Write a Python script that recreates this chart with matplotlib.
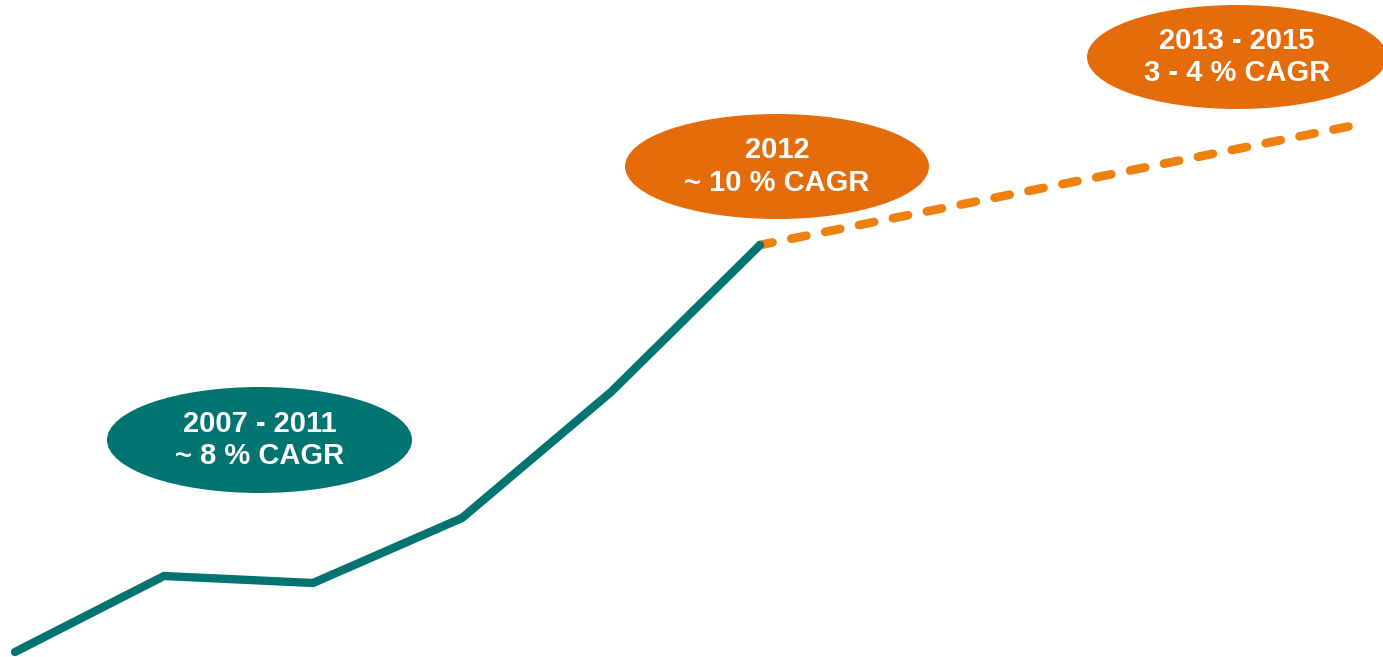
import matplotlib
matplotlib.use("Agg")
import matplotlib.pyplot as plt
from matplotlib.patches import Ellipse

# Growth index (arbitrary units) for the historical period and the outlook
hist_x = [0, 1, 2, 3, 4, 5]
hist_y = [5, 81, 74, 139, 265, 412]
fcst_x = [5, 9]
fcst_y = [412, 532]

labels = ["2007 - 2011\n~ 8 % CAGR", "2012\n~ 10 % CAGR", "2013 - 2015\n3 - 4 % CAGR"]

TEAL = "#007470"
ORANGE = "#E46C0A"
ORANGE_LINE = "#EE800E"

W, H = 1383, 657
fig = plt.figure(figsize=(W / 100, H / 100), dpi=100)
ax = fig.add_axes([0, 0, 1, 1])
step = 149.0
x0 = 15.0
ax.set_xlim(-x0 / step, (W - x0) / step)
ax.set_ylim(0, H)
ax.axis("off")

ax.plot(fcst_x, fcst_y, color=ORANGE_LINE, lw=6.3, linestyle=(0.3, (1.75, 2.2)),
        dash_capstyle="round", zorder=2)
ax.plot(hist_x, hist_y, color=TEAL, lw=6.0, solid_capstyle="round",
        solid_joinstyle="round", zorder=3)


def px(x, y):
    return (x - x0) / step, H - y


bubbles = [
    (259.5, 440, 305, 106, TEAL, labels[0]),
    (777, 166.5, 304, 105, ORANGE, labels[1]),
    (1237, 57, 300, 104, ORANGE, labels[2]),
]
for cx, cy, w, h, col, txt in bubbles:
    dx, dy = px(cx, cy)
    ax.add_patch(Ellipse((dx, dy), w / step, h, facecolor=col, edgecolor="none", zorder=4))
    ax.text(dx, dy, txt, ha="center", va="center", color="white", fontsize=21,
            fontweight="bold", family="Liberation Sans", linespacing=1.2, zorder=5)

fig.savefig("out.png", dpi=100)
